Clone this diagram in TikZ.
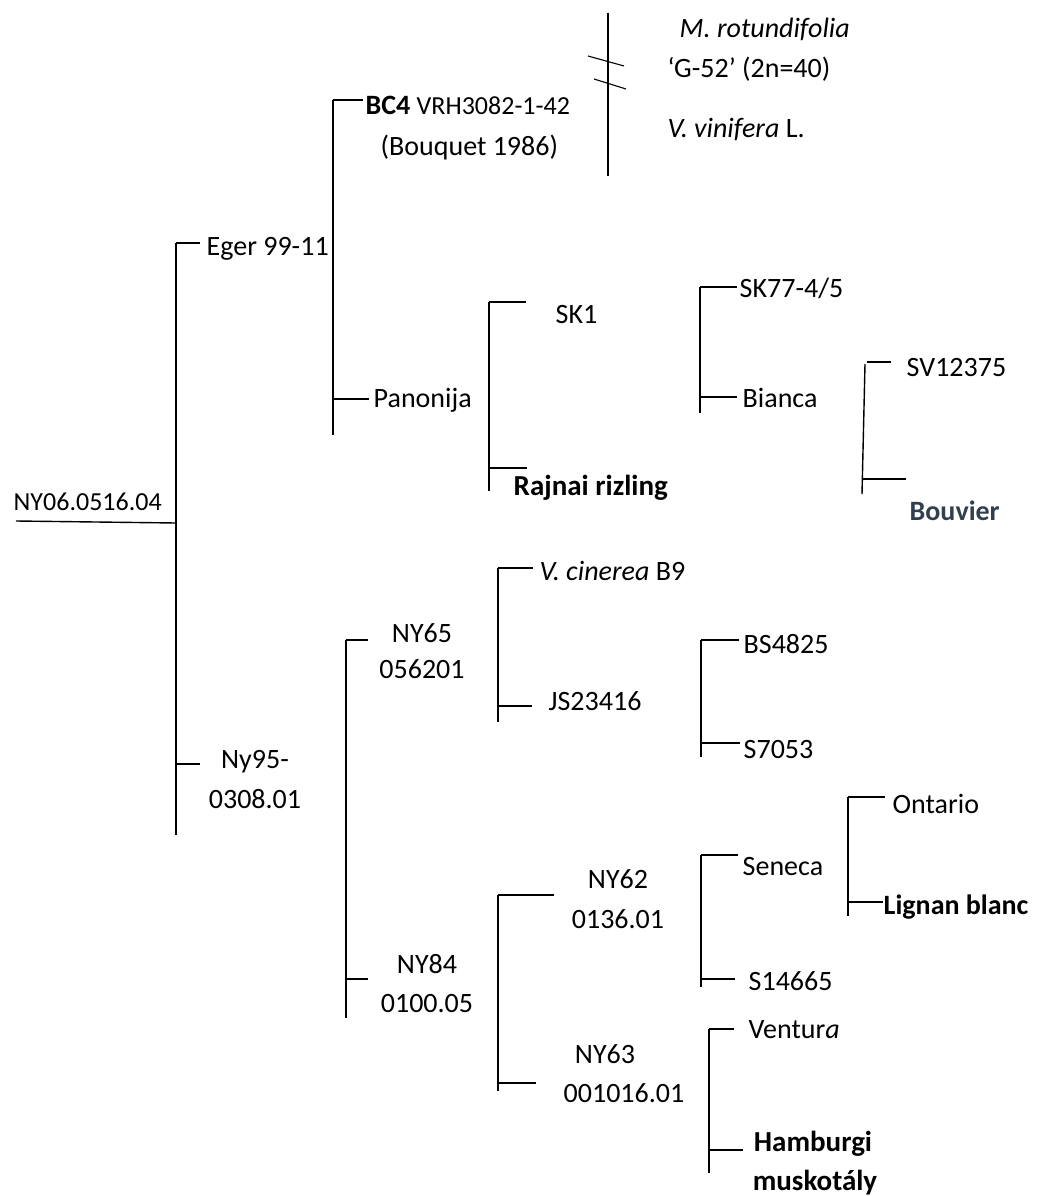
\documentclass[tikz,border=0pt]{standalone}
\usepackage{fontspec}
\setmainfont{Carlito}
\definecolor{bouv}{HTML}{323F4F}
\begin{document}
\begin{tikzpicture}[x=1pt,y=-1pt,
  line width=1.4pt,
  lbl/.style={inner sep=0pt, anchor=base west, font=\fontsize{28}{34}\selectfont},
  lblc/.style={inner sep=0pt, anchor=base, font=\fontsize{28}{34}\selectfont},
  bld/.style={font=\fontsize{29}{34}\selectfont\bfseries}]
\useasboundingbox (0,0) rectangle (1037,1196);

% ---------- labels ----------
\node[lbl, font=\fontsize{26}{30}\selectfont] (root) at (13,510) {NY06.0516.04};
\node[lbl] (eger) at (206,255) {Eger 99-11};
\node[lbl] (bc4) at (365,115) {\textbf{BC4} {\fontsize{26}{30}\selectfont VRH3082-1-42}};
\node[lbl] (bouq) at (380,155) {(Bouquet 1986)};
\node[lbl] (mrot) at (679,38) {\textit{M. rotundifolia}};
\node[lbl] (g52) at (667,78) {‘G-52’ (2n=40)};
\node[lbl] (vvin) at (667,137) {\textit{V. vinifera} L.};
\node[lbl] (pan) at (373,407) {Panonija};
\node[lbl] (sk1) at (555,323) {SK1};
\node[lbl, bld] (rajn) at (513,495) {Rajnai rizling};
\node[lbl] (sk77) at (739,297) {SK77-4/5};
\node[lbl] (bian) at (742,407) {Bianca};
\node[lbl] (sv) at (906,376) {SV12375};
\node[lbl, bld, text=bouv, font=\fontsize{28}{34}\selectfont\bfseries] (bouv) at (909,520) {Bouvier};
\node[lblc] (ny65a) at (422,642) {NY65};
\node[lblc] (ny65b) at (422,678) {056201};
\node[lbl] (vcin) at (539,580) {\textit{V. cinerea} B9};
\node[lbl] (js) at (548,710) {JS23416};
\node[lbl] (bs) at (743,653) {BS4825};
\node[lbl] (s7053) at (743,758) {S7053};
\node[lblc] (ny95a) at (255,768) {Ny95-};
\node[lblc] (ny95b) at (255,808) {0308.01};
\node[lblc] (ny84a) at (427,973) {NY84};
\node[lblc] (ny84b) at (427,1012) {0100.05};
\node[lblc] (ny62a) at (618,888) {NY62};
\node[lblc] (ny62b) at (618,928) {0136.01};
\node[lblc] (ny63a) at (605,1063) {NY63};
\node[lblc] (ny63b) at (624,1102) {001016.01};
\node[lbl] (sen) at (742,875) {Seneca};
\node[lbl] (s146) at (748,990) {S14665};
\node[lbl] (ont) at (892,813) {Ontario};
\node[lbl, bld, font=\fontsize{28}{34}\selectfont\bfseries] (lign) at (883,914) {Lignan blanc};
\node[lbl] (vent) at (748,1038) {Ventur\textit{a}};
\node[lblc, bld] (hamba) at (813,1151) {Hamburgi};
\node[lblc, bld] (hambb) at (815,1190) {muskotály};

% ---------- bracket coordinates ----------
% root
\coordinate (r0) at (16,521);  \coordinate (r1) at (176,523);
\coordinate (v1t) at (176,243); \coordinate (v1b) at (176,835);
\coordinate (egE) at (200,243);
\coordinate (nyS) at (176,764); \coordinate (nyE) at (200,764);
% Eger bracket
\coordinate (v2t) at (333,100); \coordinate (v2b) at (333,435);
\coordinate (bcE) at (363,100);
\coordinate (paS) at (333,399); \coordinate (paE) at (369,399);
% BC4 parents
\coordinate (p1t) at (608,13); \coordinate (p1b) at (608,176);
\coordinate (s1a) at (588,56); \coordinate (s1b) at (624,66);
\coordinate (s2a) at (594,79); \coordinate (s2b) at (626,89);
% SK1 / Rajnai
\coordinate (k1t) at (489,302); \coordinate (k1b) at (489,491);
\coordinate (k1E) at (526,302);
\coordinate (rjS) at (489,468); \coordinate (rjE) at (527,468);
% SK77 / Bianca
\coordinate (k7t) at (700,287); \coordinate (k7b) at (700,413);
\coordinate (k7E) at (737,287);
\coordinate (biS) at (700,397); \coordinate (biE) at (737,397);
% SV / Bouvier
\coordinate (svt) at (865,364); \coordinate (svb) at (862,494);
\coordinate (svS) at (867,362); \coordinate (svE) at (891,362);
\coordinate (boS) at (863,479); \coordinate (boE) at (906,479);
% Ny95 bracket
\coordinate (v3t) at (346,640); \coordinate (v3b) at (346,1018);
\coordinate (n65E) at (368,640);
\coordinate (n84S) at (346,979); \coordinate (n84E) at (368,979);
% cinerea / JS
\coordinate (ct) at (498,568); \coordinate (cb) at (498,722);
\coordinate (cE) at (533,568);
\coordinate (jsS) at (498,706); \coordinate (jsE) at (532,706);
% BS / S7053
\coordinate (bt) at (701,640); \coordinate (bb) at (701,757);
\coordinate (bE) at (739,640);
\coordinate (s7S) at (701,743); \coordinate (s7E) at (740,743);
% NY62 / NY63
\coordinate (n6t) at (498,895); \coordinate (n6b) at (498,1091);
\coordinate (n62E) at (554,895);
\coordinate (n63S) at (498,1083); \coordinate (n63E) at (536,1083);
% Seneca / S14665
\coordinate (set) at (701,855); \coordinate (seb) at (701,987);
\coordinate (seE) at (738,855);
\coordinate (s14S) at (701,979); \coordinate (s14E) at (735,979);
% Ontario / Lignan
\coordinate (ot) at (848,797); \coordinate (ob) at (848,916);
\coordinate (oE) at (885,797);
\coordinate (liS) at (848,902); \coordinate (liE) at (883,902);
% Ventura / Hamburgi
\coordinate (vt) at (709,1029); \coordinate (vb) at (709,1173);
\coordinate (vE) at (734,1029);
\coordinate (haS) at (709,1150); \coordinate (haE) at (743,1150);

% ---------- connectors ----------
\draw (r0) -- (r1);
\draw (v1t) -- (v1b);
\draw (v1t) -- (egE);
\draw (nyS) -- (nyE);
\draw (v2t) -- (v2b);
\draw (v2t) -- (bcE);
\draw (paS) -- (paE);
\draw (p1t) -- (p1b);
\draw[line width=1.1pt] (s1a) -- (s1b);
\draw[line width=1.1pt] (s2a) -- (s2b);
\draw (k1t) -- (k1b);
\draw (k1t) -- (k1E);
\draw (rjS) -- (rjE);
\draw (k7t) -- (k7b);
\draw (k7t) -- (k7E);
\draw (biS) -- (biE);
\draw (svt) -- (svb);
\draw (svS) -- (svE);
\draw (boS) -- (boE);
\draw (v3t) -- (v3b);
\draw (v3t) -- (n65E);
\draw (n84S) -- (n84E);
\draw (ct) -- (cb);
\draw (ct) -- (cE);
\draw (jsS) -- (jsE);
\draw (bt) -- (bb);
\draw (bt) -- (bE);
\draw (s7S) -- (s7E);
\draw (n6t) -- (n6b);
\draw (n6t) -- (n62E);
\draw (n63S) -- (n63E);
\draw (set) -- (seb);
\draw (set) -- (seE);
\draw (s14S) -- (s14E);
\draw (ot) -- (ob);
\draw (ot) -- (oE);
\draw (liS) -- (liE);
\draw (vt) -- (vb);
\draw (vt) -- (vE);
\draw (haS) -- (haE);
\end{tikzpicture}
\end{document}
